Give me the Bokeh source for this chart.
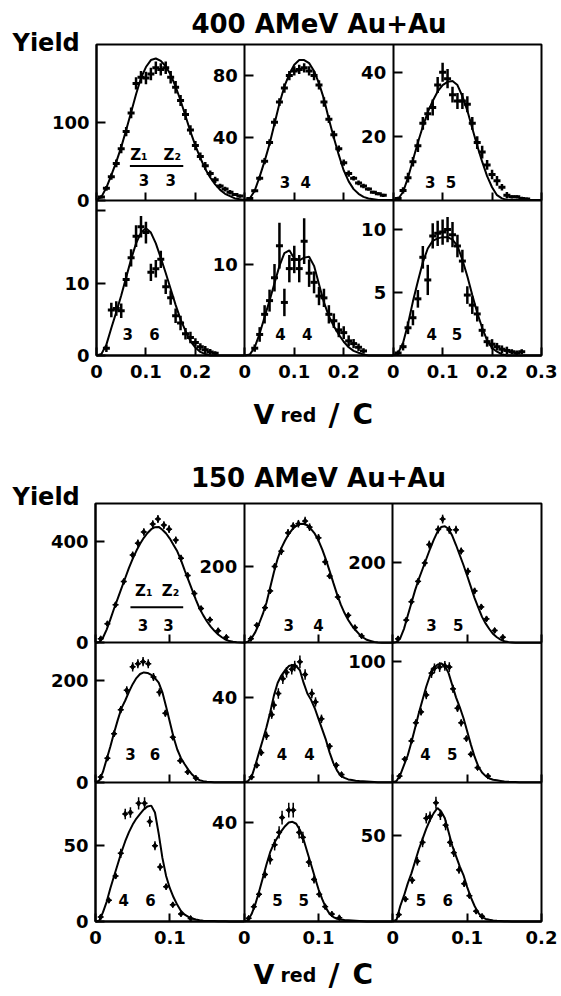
from bokeh.plotting import figure
from bokeh.models import Range1d, LinearAxis, FixedTicker, Label
from bokeh.embed import file_html
from bokeh.resources import INLINE

FONT = "DejaVu Sans"

# ======================= 400 AMeV Au+Au =======================
TOP_TITLE = "400 AMeV Au+Au"
TOP_XMAX = 0.3
TOP_CURVE_X = [0.00, 0.01, 0.02, 0.03, 0.04, 0.05, 0.06, 0.07, 0.08, 0.09,
               0.10, 0.11, 0.12, 0.13, 0.14, 0.15, 0.16, 0.17, 0.18, 0.19,
               0.20, 0.21, 0.22, 0.23, 0.24, 0.25, 0.26, 0.27, 0.28, 0.29, 0.30]

T33_YMAX = 200
T33_YTICKS = [0, 100]
T33_CURVE = [0, 4, 16, 32, 49, 68, 90, 113, 136, 157, 171, 180, 182, 179, 172, 161, 146, 128, 108, 88,
             70, 54, 40, 29, 20, 13, 8, 5, 2, 1, 0]
T33_X = [0.01, 0.02, 0.03, 0.04, 0.05, 0.06, 0.07, 0.08, 0.09, 0.10, 0.11, 0.12, 0.13, 0.14, 0.15,
         0.16, 0.17, 0.18, 0.19, 0.20, 0.21, 0.22, 0.23, 0.24, 0.25, 0.26, 0.27, 0.28, 0.29]
T33_Y = [4, 15, 30, 47, 66, 88, 112, 150, 158, 157, 162, 170, 168, 170, 158, 145, 128, 110, 90, 70,
         56, 44, 34, 26, 18, 14, 10, 7, 5]
T33_E = [2, 3, 4, 5, 6, 6, 7, 8, 8, 8, 8, 8, 8, 8, 8, 8, 7, 7, 6, 6, 5, 5, 4, 4, 3, 3, 3, 2, 2]

T34_YMAX = 100
T34_YTICKS = [40, 80]
T34_CURVE = [0, 1, 6, 15, 25, 36, 49, 62, 73, 81, 87, 90, 90, 88, 83, 75, 65, 52, 40, 29,
             19, 12, 7, 4, 2, 1, 0.5, 0, 0, 0, 0]
T34_X = [0.01, 0.02, 0.03, 0.04, 0.05, 0.06, 0.07, 0.08, 0.09, 0.10, 0.11, 0.12, 0.13, 0.14,
         0.15, 0.16, 0.17, 0.18, 0.19, 0.20, 0.21, 0.22, 0.23, 0.24, 0.25, 0.26, 0.27, 0.28]
T34_Y = [1, 6, 14, 25, 37, 50, 63, 72, 80, 83, 84, 85, 83, 80, 74, 63, 52, 42, 33, 24,
         17, 14, 11, 9, 7, 5, 4, 3]
T34_E = [0.5, 1, 1.5, 2, 2, 2.5, 2.5, 3, 3, 3, 3, 3, 3, 3, 3, 3, 2.5, 2.5, 2, 2,
         2, 1.5, 1.5, 1.5, 1, 1, 1, 1]

T35_YMAX = 48.7
T35_YTICKS = [20, 40]
T35_CURVE = [0, 0.3, 2.5, 7, 12.5, 18, 23, 27.5, 31, 34, 36, 37, 37.3, 36, 32.5, 28, 22.5, 17, 12, 7.5,
             4, 1.5, 0.5, 0, 0, 0, 0, 0, 0, 0, 0]
T35_X = [0.01, 0.02, 0.03, 0.04, 0.05, 0.06, 0.07, 0.08, 0.09, 0.10, 0.11, 0.12, 0.13, 0.14,
         0.15, 0.16, 0.17, 0.18, 0.19, 0.20, 0.21, 0.22, 0.23, 0.24, 0.25, 0.26, 0.27]
T35_Y = [0.5, 3, 7, 12, 17, 24, 27, 29, 36, 40, 38, 33, 31, 31, 30, 24, 18, 15, 11, 8,
         6, 4, 1.5, 1, 1, 0.5, 0.3]
T35_E = [0.5, 1, 1.5, 1.5, 2, 2, 2, 2.5, 2.5, 3, 3, 2.5, 2.5, 2.5, 2.5, 2, 2, 2, 1.5, 1.5,
         1.5, 1, 1, 0.5, 0.5, 0.5, 0.5]

T36_YMAX = 21.5
T36_YTICKS = [0, 10, 20]
T36_CURVE = [0, 0.2, 1.5, 3.8, 6, 8.3, 10.8, 13.3, 15.5, 17, 17.6, 17, 15.5, 13.5, 11.4, 9.2, 7, 5, 3.4, 2,
             1.1, 0.5, 0.2, 0, 0, 0, 0, 0, 0, 0, 0]
T36_X = [0.02, 0.03, 0.04, 0.05, 0.06, 0.07, 0.08, 0.09, 0.10, 0.11, 0.12, 0.13, 0.14, 0.15,
         0.16, 0.17, 0.18, 0.19, 0.20, 0.21, 0.22, 0.23, 0.24]
T36_Y = [1, 6.3, 6.5, 6.2, 10.5, 13.5, 16.5, 17.8, 17, 11.5, 12, 13.3, 9.5, 8, 5.5, 4.5, 3, 2.5, 1.8, 1.2,
         0.8, 0.5, 0.3]
T36_E = [0.5, 1, 1, 1, 1, 1.2, 1.5, 1.5, 1.5, 1.2, 1.2, 1.2, 1, 1, 1, 1, 0.8, 0.8, 0.6, 0.5,
         0.5, 0.4, 0.3]

T44_YMAX = 17
T44_YTICKS = [10]
T44_CURVE = [0, 0.1, 0.9, 2.4, 4.2, 6, 7.9, 9.8, 11.2, 11.5, 10.6, 10.4, 10.7, 10.8, 9.8, 7.8, 5.8, 4.3, 3.2, 2.3,
             1.5, 0.9, 0.5, 0.3, 0.1, 0, 0, 0, 0, 0, 0]
T44_X = [0.02, 0.03, 0.04, 0.05, 0.06, 0.07, 0.08, 0.09, 0.10, 0.11, 0.12, 0.13, 0.14, 0.15,
         0.16, 0.17, 0.18, 0.19, 0.20, 0.21, 0.22, 0.23, 0.24]
T44_Y = [0.8, 2.3, 4.5, 6, 8.5, 12, 5.8, 9.5, 10.5, 9.5, 12.5, 9, 8, 6.5, 6.3, 4.5, 3.8, 2.8, 2.5, 1.6,
         1.3, 0.9, 0.5]
T44_E = [0.4, 0.8, 1, 1.2, 1.5, 2.5, 1.5, 1.5, 1.5, 1.5, 2.5, 1.5, 1.2, 1, 1, 1, 0.8, 0.8, 0.7, 0.6,
         0.5, 0.4, 0.3]

T45_YMAX = 12.35
T45_YTICKS = [5, 10]
T45_CURVE = [0, 0.2, 1, 2.5, 4.3, 5.9, 7.4, 8.5, 9.1, 9.3, 9.4, 9.4, 9.2, 8.7, 7.6, 6.3, 4.8, 3.4, 2.2, 1.2,
             0.6, 0.3, 0.1, 0, 0, 0, 0, 0, 0, 0, 0]
T45_X = [0.01, 0.02, 0.03, 0.04, 0.05, 0.06, 0.07, 0.08, 0.09, 0.10, 0.11, 0.12, 0.13, 0.14,
         0.15, 0.16, 0.17, 0.18, 0.19, 0.20, 0.21, 0.22, 0.23, 0.24, 0.25, 0.26]
T45_Y = [0.2, 0.7, 2.2, 3, 4.5, 7.8, 6, 9.5, 9.7, 9.8, 10, 9.6, 8.7, 7.5, 4.8, 4, 3.3, 2, 1.1, 0.9,
         0.7, 0.5, 0.4, 0.3, 0.2, 0.3]
T45_E = [0.2, 0.3, 0.5, 0.6, 0.7, 0.9, 1.2, 1, 1, 1, 1, 1, 0.9, 0.9, 0.7, 0.7, 0.6, 0.5, 0.4, 0.4,
         0.3, 0.3, 0.3, 0.2, 0.2, 0.2]

# ======================= 150 AMeV Au+Au =======================
BOT_TITLE = "150 AMeV Au+Au"
BOT_XMAX = 0.2
BOT_CURVE_X = [0.000, 0.005, 0.010, 0.015, 0.020, 0.025, 0.030, 0.035, 0.040, 0.045,
               0.050, 0.055, 0.060, 0.065, 0.070, 0.075, 0.080, 0.085, 0.090, 0.095,
               0.100, 0.105, 0.110, 0.115, 0.120, 0.125, 0.130, 0.135, 0.140, 0.145,
               0.150, 0.155, 0.160, 0.165, 0.170, 0.175, 0.180, 0.185, 0.190, 0.195, 0.200]

B33_YMAX = 548
B33_YTICKS = [0, 400]
B33_CURVE = [0, 3, 20, 52, 92, 135, 175, 215, 255, 295, 330, 362, 390, 413, 432, 447, 455, 456, 445, 430,
             410, 385, 360, 325, 285, 247, 208, 170, 135, 108, 84, 64, 47, 33, 22, 13, 7, 4, 2, 1, 0]
B33_X = [0.007, 0.016, 0.027, 0.038, 0.050, 0.057, 0.065, 0.077, 0.084, 0.092, 0.099, 0.108, 0.115,
         0.124, 0.133, 0.142, 0.154, 0.165, 0.176]
B33_Y = [16, 75, 150, 241, 345, 392, 436, 467, 487, 463, 447, 404, 333, 265, 194, 135, 91, 48, 22]
B33_E = [6, 8, 10, 12, 14, 14, 15, 15, 16, 15, 15, 14, 13, 12, 11, 10, 8, 6, 5]

B34_YMAX = 365
B34_YTICKS = [200]
B34_CURVE = [0, 3, 12, 28, 50, 75, 105, 145, 185, 220, 248, 268, 285, 298, 306, 311, 312, 308, 298, 286,
             268, 245, 218, 188, 157, 127, 100, 78, 60, 45, 33, 22, 14, 8, 5, 2, 1, 0.5, 0, 0, 0]
B34_X = [0.009, 0.017, 0.028, 0.035, 0.041, 0.050, 0.059, 0.066, 0.073, 0.082, 0.088, 0.100, 0.109,
         0.115, 0.126, 0.140, 0.149, 0.158]
B34_Y = [11, 46, 92, 136, 200, 240, 288, 306, 312, 319, 303, 275, 212, 175, 120, 72, 40, 18]
B34_E = [4, 6, 7, 8, 9, 10, 10, 10, 10, 11, 10, 10, 9, 8, 7, 6, 5, 4]

B35_YMAX = 349
B35_YTICKS = [200]
B35_CURVE = [0, 2, 12, 35, 68, 100, 132, 160, 185, 210, 235, 258, 278, 290, 292, 285, 268, 245, 220, 195,
             168, 140, 112, 88, 65, 48, 34, 22, 14, 8, 4, 2, 1, 0, 0, 0, 0, 0, 0, 0, 0]
B35_X = [0.007, 0.018, 0.025, 0.034, 0.043, 0.049, 0.061, 0.067, 0.076, 0.085, 0.092, 0.101, 0.110,
         0.119, 0.126, 0.137, 0.148]
B35_Y = [10, 57, 103, 154, 200, 246, 284, 310, 283, 283, 230, 179, 130, 90, 60, 31, 14]
B35_E = [4, 6, 7, 8, 9, 10, 10, 11, 10, 10, 9, 9, 8, 7, 6, 5, 4]

B36_YMAX = 273
B36_YTICKS = [0, 200]
B36_CURVE = [0, 3, 20, 45, 70, 97, 122, 145, 160, 177, 192, 204, 212, 215, 214, 210, 204, 195, 176, 148,
             118, 88, 64, 47, 35, 24, 15, 8, 4, 2, 1, 0.5, 0, 0, 0, 0, 0, 0, 0, 0, 0]
B36_X = [0.007, 0.016, 0.025, 0.034, 0.042, 0.050, 0.057, 0.064, 0.071, 0.078, 0.086, 0.094, 0.104,
         0.114, 0.124, 0.135]
B36_Y = [10, 47, 95, 142, 180, 226, 232, 236, 232, 206, 176, 135, 88, 42, 20, 8]
B36_E = [3, 5, 6, 7, 8, 9, 9, 9, 9, 8, 8, 7, 6, 5, 3, 3]

B44_YMAX = 66
B44_YTICKS = [40]
B44_CURVE = [0, 0.5, 2.5, 8, 14, 20, 26, 33, 41, 47, 50.5, 53, 55, 55.5, 55, 53, 47, 42, 39, 35,
             30, 25, 20, 14, 9, 5.5, 3, 2, 1.3, 1, 0.7, 0.5, 0.4, 0.3, 0.2, 0.1, 0, 0, 0, 0, 0]
B44_X = [0.010, 0.017, 0.023, 0.030, 0.037, 0.040, 0.046, 0.052, 0.057, 0.064, 0.068, 0.075, 0.082,
         0.091, 0.096, 0.104, 0.115, 0.124, 0.131]
B44_Y = [2.4, 8, 14, 22, 32, 36.5, 42, 49, 52, 53.5, 55, 57, 51, 42, 38, 30, 17, 8, 3.6]
B44_E = [0.8, 1.2, 1.5, 2, 2, 2.2, 2.5, 2.5, 2.5, 2.5, 2.5, 3, 2.5, 2.3, 2.2, 2, 1.5, 1.2, 1]

B45_YMAX = 115
B45_YTICKS = [100]
B45_CURVE = [0, 1, 6, 14, 22, 33, 45, 57, 68, 79, 88, 94, 97, 98, 96, 90, 80, 70, 62, 53,
             42, 31, 21, 13, 8, 5, 3, 2, 1.5, 1, 0.5, 0.3, 0.2, 0.1, 0, 0, 0, 0, 0, 0, 0]
B45_X = [0.009, 0.016, 0.025, 0.031, 0.038, 0.045, 0.052, 0.056, 0.063, 0.070, 0.076, 0.081, 0.087,
         0.092, 0.099, 0.105, 0.114, 0.128]
B45_Y = [5, 19, 34, 49, 58, 72, 90, 94, 95, 96, 95, 77, 61, 49, 36, 23, 12, 5]
B45_E = [1.5, 2, 2.5, 3, 3, 3.5, 4, 4, 4, 4, 4, 3.5, 3, 3, 2.5, 2, 1.5, 1]

B46_YMAX = 92
B46_YTICKS = [0, 50]
B46_CURVE = [0, 0.5, 6, 13, 22, 30, 38, 46, 53, 59, 64, 68, 71, 74, 76, 76.5, 72, 58, 42, 30,
             22, 16, 11, 7, 4.5, 3, 2, 1.3, 0.8, 0.5, 0.4, 0.3, 0.3, 0.2, 0.2, 0.1, 0, 0, 0, 0, 0]
B46_X = [0.007, 0.018, 0.027, 0.034, 0.040, 0.047, 0.058, 0.066, 0.073, 0.080, 0.087, 0.095, 0.104,
         0.115, 0.128]
B46_Y = [3, 14, 30, 45, 71, 72, 78, 78, 66, 50, 36, 23, 11, 5, 2]
B46_E = [1, 1.5, 2, 3, 3.5, 3.5, 4, 4, 3.5, 3, 2.5, 2, 1.5, 1, 0.8]

B55_YMAX = 56.3
B55_YTICKS = [40]
B55_CURVE = [0, 0.5, 3, 7, 12, 17.5, 23, 28, 31.5, 34, 36.5, 38.5, 40, 40.3, 39.5, 37, 33, 28, 23, 18,
             13, 9, 5.5, 3, 1.8, 1.1, 0.8, 0.6, 0.5, 0.4, 0.3, 0.2, 0.1, 0, 0, 0, 0, 0, 0, 0, 0]
B55_X = [0.006, 0.013, 0.020, 0.028, 0.035, 0.041, 0.047, 0.051, 0.060, 0.066, 0.074, 0.079, 0.087,
         0.094, 0.101, 0.109, 0.118, 0.128]
B55_Y = [1.3, 6, 11, 19, 25, 31, 36, 42, 45, 45, 36, 34, 24, 17, 11, 6, 3, 1.5]
B55_E = [0.6, 1, 1.2, 1.5, 2, 2.3, 2.5, 2.8, 3, 3, 2.5, 2.3, 2, 1.6, 1.2, 1, 0.8, 0.5]

B56_YMAX = 81
B56_YTICKS = [50]
B56_CURVE = [0, 1, 9, 15, 22, 28, 35, 42, 48, 54, 59, 63, 66, 64, 60, 52, 44, 38, 32, 27,
             20, 14, 9, 5, 2.5, 1.5, 1, 0.6, 0.4, 0.3, 0.2, 0.1, 0, 0, 0, 0, 0, 0, 0, 0, 0]
B56_X = [0.008, 0.017, 0.026, 0.033, 0.040, 0.045, 0.050, 0.058, 0.064, 0.071, 0.077, 0.082, 0.089,
         0.096, 0.103, 0.112, 0.120]
B56_Y = [4, 13, 24, 35, 46, 60, 61, 69, 62, 56, 46, 40, 30, 22, 15, 6, 3]
B56_E = [1, 1.5, 2, 2.5, 2.8, 3, 3, 3.5, 3, 3, 2.7, 2.5, 2.2, 2, 1.5, 1, 0.8]

TOP_XTICKS = [[0, 0.1, 0.2], [0, 0.1, 0.2], [0, 0.1, 0.2, 0.3]]
BOT_XTICKS = [[0, 0.1], [0, 0.1], [0, 0.1, 0.2]]

TOP_PANELS = [
    (0, 0, "3", "3", T33_YMAX, T33_YTICKS, T33_CURVE, T33_X, T33_Y, T33_E, (0.32, 0.50, 0.128)),
    (0, 1, "3", "4", T34_YMAX, T34_YTICKS, T34_CURVE, T34_X, T34_Y, T34_E, (0.27, 0.41, 0.118)),
    (0, 2, "3", "5", T35_YMAX, T35_YTICKS, T35_CURVE, T35_X, T35_Y, T35_E, (0.25, 0.39, 0.118)),
    (1, 0, "3", "6", T36_YMAX, T36_YTICKS, T36_CURVE, T36_X, T36_Y, T36_E, (0.21, 0.39, 0.14)),
    (1, 1, "4", "4", T44_YMAX, T44_YTICKS, T44_CURVE, T44_X, T44_Y, T44_E, (0.24, 0.42, 0.14)),
    (1, 2, "4", "5", T45_YMAX, T45_YTICKS, T45_CURVE, T45_X, T45_Y, T45_E, (0.26, 0.43, 0.14)),
]
BOT_PANELS = [
    (0, 0, "3", "3", B33_YMAX, B33_YTICKS, B33_CURVE, B33_X, B33_Y, B33_E, (0.32, 0.49, 0.126)),
    (0, 1, "3", "4", B34_YMAX, B34_YTICKS, B34_CURVE, B34_X, B34_Y, B34_E, (0.30, 0.50, 0.126)),
    (0, 2, "3", "5", B35_YMAX, B35_YTICKS, B35_CURVE, B35_X, B35_Y, B35_E, (0.26, 0.44, 0.126)),
    (1, 0, "3", "6", B36_YMAX, B36_YTICKS, B36_CURVE, B36_X, B36_Y, B36_E, (0.235, 0.40, 0.20)),
    (1, 1, "4", "4", B44_YMAX, B44_YTICKS, B44_CURVE, B44_X, B44_Y, B44_E, (0.255, 0.44, 0.20)),
    (1, 2, "4", "5", B45_YMAX, B45_YTICKS, B45_CURVE, B45_X, B45_Y, B45_E, (0.22, 0.40, 0.20)),
    (2, 0, "4", "6", B46_YMAX, B46_YTICKS, B46_CURVE, B46_X, B46_Y, B46_E, (0.19, 0.37, 0.154)),
    (2, 1, "5", "5", B55_YMAX, B55_YTICKS, B55_CURVE, B55_X, B55_Y, B55_E, (0.224, 0.40, 0.154)),
    (2, 2, "5", "6", B56_YMAX, B56_YTICKS, B56_CURVE, B56_X, B56_Y, B56_E, (0.19, 0.37, 0.154)),
]

# ---------------- layout (canvas pixels, from top-left) ----------------
W, H = 560, 994
TOP_BOX = (96, 541, 44, 355)    # left, right, top, bottom of the panel grid
BOT_BOX = (95, 541, 503, 921)
TOP_TEXT = dict(title_y=23, yield_y=42, vlab_y=414)
BOT_TEXT = dict(title_y=477, yield_y=496, vlab_y=974)
TOP_STYLE = dict(err_w=2.5, dash_size=7, dash_w=3, diamond=0)
BOT_STYLE = dict(err_w=1.5, dash_size=6, dash_w=1.5, diamond=6)

p = figure(frame_width=W, frame_height=H, x_range=Range1d(0, W), y_range=Range1d(0, H),
           x_axis_type=None, y_axis_type=None, toolbar_location=None, output_backend="svg",
           min_border_left=0, min_border_right=0, min_border_top=0, min_border_bottom=0)
p.outline_line_color = None
p.background_fill_color = "white"
p.border_fill_color = "white"

extra_x, extra_y = {}, {}


def txt(x, y, text, size, align="left", baseline="alphabetic", **kw):
    p.add_layout(Label(x=x, y=y, text=text, text_font=FONT, text_font_style="bold",
                       text_font_size=size, text_color="black", text_align=align,
                       text_baseline=baseline, **kw))


def block(tag, title, xmax, xticks, curve_x, panels, box, texts, style, zhead):
    L, R, T, B = box
    nrows = max(pp[0] for pp in panels) + 1
    ncols = 3
    w = (R - L) / ncols
    h = (B - T) / nrows
    for c in range(ncols):
        k = xmax / w
        s = -(L + c * w) * k
        extra_x[f"{tag}c{c}"] = Range1d(s, s + W * k)
    for pp in panels:
        r, c, ymax = pp[0], pp[1], pp[4]
        k = ymax / h
        s = -(H - (T + (r + 1) * h)) * k
        extra_y[f"{tag}r{r}c{c}"] = Range1d(s, s + H * k)

    # outer box of the panel grid
    p.quad(left=[L], right=[R], top=[H - T], bottom=[H - B], fill_color=None,
           line_color="black", line_width=2)

    for (r, c, z1, z2, ymax, yticks, curve, xs, ys, es, lab) in panels:
        xn, yn = f"{tag}c{c}", f"{tag}r{r}c{c}"
        lo = [y - e for y, e in zip(ys, es)]
        hi = [y + e for y, e in zip(ys, es)]
        p.segment(x0=xs, y0=lo, x1=xs, y1=hi, x_range_name=xn, y_range_name=yn,
                  line_color="black", line_width=style["err_w"])
        p.scatter(xs, ys, marker="dash", size=style["dash_size"], line_width=style["dash_w"],
                  line_color="black", x_range_name=xn, y_range_name=yn)
        if style["diamond"]:
            p.scatter(xs, ys, marker="diamond", size=style["diamond"], fill_color="black",
                      line_color="black", x_range_name=xn, y_range_name=yn)
        p.line(curve_x, curve, x_range_name=xn, y_range_name=yn, line_color="black", line_width=2)

        ya = LinearAxis(x_range_name=xn, y_range_name=yn, fixed_location=0,
                        ticker=FixedTicker(ticks=yticks), bounds=(0, ymax),
                        major_tick_in=9, major_tick_out=0, minor_tick_in=0, minor_tick_out=0,
                        axis_line_width=2, major_tick_line_width=2,
                        major_label_standoff=7, major_label_text_font=FONT,
                        major_label_text_font_style="bold", major_label_text_font_size="18px",
                        major_label_text_color="black")
        if 20 in yticks and ymax < 30:
            ya.major_label_overrides = {20: ""}
        p.add_layout(ya, "left")

        xa = LinearAxis(x_range_name=xn, y_range_name=yn, fixed_location=0,
                        ticker=FixedTicker(ticks=xticks[c]), bounds=(0, xmax),
                        major_tick_in=8, major_tick_out=0, minor_tick_in=0, minor_tick_out=0,
                        axis_line_width=2, major_tick_line_width=2,
                        major_label_standoff=9, major_label_text_font=FONT,
                        major_label_text_font_style="bold", major_label_text_font_size="18px",
                        major_label_overrides={0: "0"})
        xa.major_label_text_color = "black" if r == nrows - 1 else None
        p.add_layout(xa, "below")

        fx1, fx2, fy = lab
        for fx, t in ((fx1, z1), (fx2, z2)):
            txt(fx * xmax, fy * ymax, t, "15px", "center", "middle",
                x_range_name=xn, y_range_name=yn)
        if r == 0 and c == 0:
            zx1, zx2, zy, lx0, lx1, ly = zhead
            for fx, t in ((zx1, "Z₁"), (zx2, "Z₂")):
                txt(fx * xmax, zy * ymax, t, "15px", "center", "middle",
                    x_range_name=xn, y_range_name=yn)
            p.segment(x0=[lx0 * xmax], y0=[ly * ymax], x1=[lx1 * xmax], y1=[ly * ymax],
                      x_range_name=xn, y_range_name=yn, line_color="black", line_width=2)

    # block texts
    txt((L + R) / 2, H - texts["title_y"], title, "26px", "center")
    txt(12, H - texts["yield_y"], "Yield", "24px")
    vy = H - texts["vlab_y"]
    txt(253, vy, "V", "27px")
    txt(280, vy, "red", "19px")
    txt(328, vy, "/", "30px")
    txt(352, vy, "C", "28px")


block("t", TOP_TITLE, TOP_XMAX, TOP_XTICKS, TOP_CURVE_X, TOP_PANELS, TOP_BOX, TOP_TEXT, TOP_STYLE,
      (0.286, 0.511, 0.29, 0.225, 0.585, 0.218))
block("b", BOT_TITLE, BOT_XMAX, BOT_XTICKS, BOT_CURVE_X, BOT_PANELS, BOT_BOX, BOT_TEXT, BOT_STYLE,
      (0.325, 0.505, 0.37, 0.235, 0.59, 0.256))

p.extra_x_ranges = extra_x
p.extra_y_ranges = extra_y

open("out.html", "w").write(file_html(p, INLINE))
